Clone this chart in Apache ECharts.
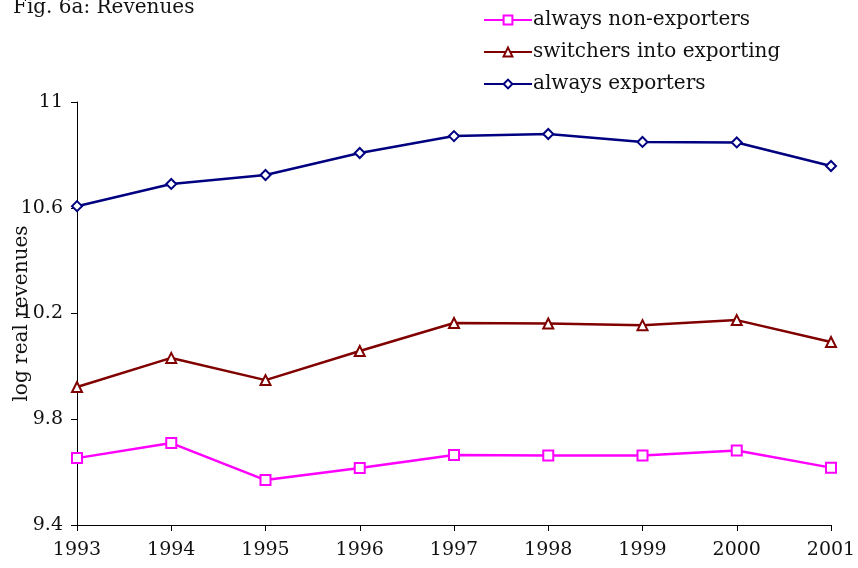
<!DOCTYPE html>
<html>
<head>
<meta charset="utf-8">
<script src="https://cdn.jsdelivr.net/npm/echarts@6/dist/echarts.min.js"></script>
<style>
  html, body { margin: 0; padding: 0; background: #fff; }
  #chart { width: 858px; height: 568px; }
</style>
</head>
<body>
<div id="chart"></div>
<script>
var years = ['1993', '1994', '1995', '1996', '1997', '1998', '1999', '2000', '2001']
var nonExporters = [9.653, 9.710, 9.570, 9.616, 9.665, 9.663, 9.663, 9.682, 9.617]
var switchers = [9.922, 10.032, 9.948, 10.058, 10.164, 10.162, 10.156, 10.175, 10.092]
var exporters = [10.606, 10.690, 10.724, 10.807, 10.871, 10.879, 10.849, 10.847, 10.758]

var font = 'DejaVu Serif'

function makeSeries (name, data, color, symbol) {
  return {
    name: name,
    type: 'line',
    data: data,
    symbol: symbol,
    symbolSize: 10,
    color: color,
    lineStyle: { color: color, width: 2.5 },
    itemStyle: { color: color, borderColor: color, borderWidth: 2 },
    animation: false
  }
}

var chart = echarts.init(document.getElementById('chart'))
chart.setOption({
  backgroundColor: '#fff',
  textStyle: { fontFamily: font, color: '#111' },
  title: {
    text: 'Fig. 6a: Revenues',
    left: 8,
    top: -7,
    textStyle: { fontFamily: font, fontSize: 20, fontWeight: 'normal', color: '#111' }
  },
  legend: {
    orient: 'vertical',
    left: 478,
    top: 5,
    itemWidth: 48,
    itemHeight: 11,
    itemGap: 12,
    textStyle: { fontFamily: font, fontSize: 20, color: '#111', padding: [0, 0, 0, -4] },
    data: ['always non-exporters', 'switchers into exporting', 'always exporters']
  },
  grid: {
    left: 77,
    right: 27,
    top: 102,
    bottom: 43,
    containLabel: false,
    outerBoundsMode: 'none'
  },
  xAxis: {
    type: 'category',
    data: years,
    boundaryGap: false,
    axisLine: { lineStyle: { color: '#000', width: 1 } },
    axisTick: { alignWithLabel: true, length: 6, lineStyle: { color: '#000' } },
    axisLabel: { fontFamily: font, fontSize: 19, color: '#111', margin: 16 }
  },
  yAxis: {
    type: 'value',
    min: 9.4,
    max: 11,
    interval: 0.4,
    name: 'log real revenues',
    nameLocation: 'middle',
    nameGap: 45,
    nameMoveOverlap: false,
    nameTextStyle: { fontFamily: font, fontSize: 20, color: '#111' },
    axisLine: { show: true, lineStyle: { color: '#000', width: 1 } },
    axisTick: { show: true, length: 6, lineStyle: { color: '#000' } },
    splitLine: { show: false },
    axisLabel: {
      fontFamily: font,
      fontSize: 19,
      color: '#111',
      margin: 14,
      formatter: function (v) { return Math.round(v * 10) / 10 + '' }
    }
  },
  series: [
    makeSeries('always non-exporters', nonExporters, '#ff00ff', 'emptyRect'),
    makeSeries('switchers into exporting', switchers, '#800000', 'emptyTriangle'),
    makeSeries('always exporters', exporters, '#000080', 'emptyDiamond')
  ]
})
</script>
</body>
</html>
